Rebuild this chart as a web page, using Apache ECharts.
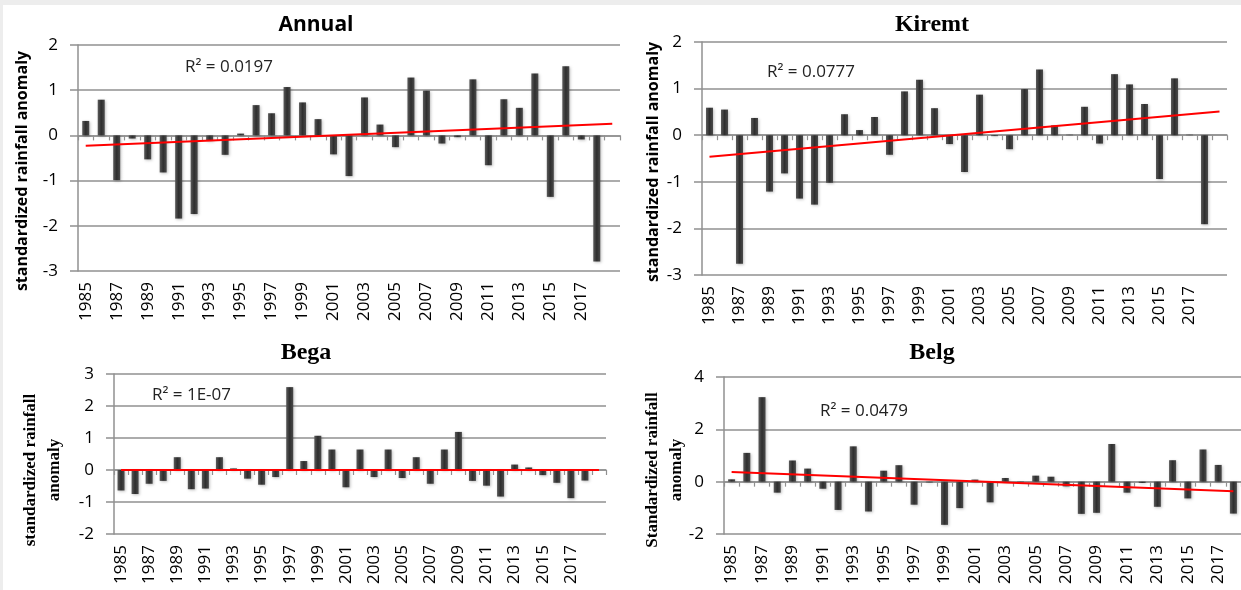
<!DOCTYPE html>
<html><head><meta charset="utf-8">
<script src="https://cdn.jsdelivr.net/npm/echarts@6/dist/echarts.min.js"></script>
<style>html,body{margin:0;padding:0;background:#fff}#c{width:1241px;height:590px}</style>
</head><body><div id="c"></div>
<script>
// ---- data ----
var yearsTop = ['1985','1986','1987','1988','1989','1990','1991','1992','1993','1994','1995','1996','1997','1998','1999','2000','2001','2002','2003','2004','2005','2006','2007','2008','2009','2010','2011','2012','2013','2014','2015','2016','2017','2018','2019'];
var yearsBelg = ['1985','1986','1987','1988','1989','1990','1991','1992','1993','1994','1995','1996','1997','1998','1999','2000','2001','2002','2003','2004','2005','2006','2007','2008','2009','2010','2011','2012','2013','2014','2015','2016','2017','2018'];

var annual = [0.32,0.79,-0.99,-0.07,-0.53,-0.82,-1.84,-1.74,-0.12,-0.43,0.04,0.67,0.49,1.07,0.73,0.36,-0.42,-0.90,0.84,0.24,-0.26,1.28,0.99,-0.18,-0.04,1.24,-0.66,0.80,0.61,1.37,-1.36,1.53,-0.09,-2.79,null];
var kiremt = [0.59,0.55,-2.76,0.37,-1.21,-0.82,-1.36,-1.49,-1.02,0.45,0.11,0.39,-0.42,0.94,1.19,0.58,-0.19,-0.79,0.87,-0.02,-0.30,0.99,1.41,0.21,0.01,0.61,-0.18,1.31,1.09,0.67,-0.94,1.22,0.01,-1.91,null];
var bega = [-0.64,-0.75,-0.43,-0.34,0.40,-0.60,-0.58,0.40,0.05,-0.27,-0.46,-0.22,2.59,0.28,1.07,0.64,-0.54,0.64,-0.22,0.64,-0.25,0.40,-0.43,0.64,1.19,-0.34,-0.49,-0.83,0.17,0.08,-0.16,-0.40,-0.88,-0.33,null];
var belg = [0.09,1.10,3.23,-0.42,0.81,0.50,-0.27,-1.08,1.35,-1.14,0.42,0.63,-0.88,-0.03,-1.65,-1.01,0.08,-0.79,0.14,-0.02,0.23,0.19,-0.18,-1.23,-1.19,1.44,-0.42,-0.05,-0.96,0.82,-0.64,1.23,0.64,-1.22];

// trend line endpoints [first category, last category]
var annualTrend = [-0.23, 0.26];
var kiremtTrend = [-0.46, 0.51];
var begaTrend = [0.0, 0.0];
var belgTrend = [0.37, -0.37];

var titles = ['Annual','Kiremt','Bega','Belg'];
var r2Labels = ['R\u00b2 = 0.0197','R\u00b2 = 0.0777','R\u00b2 = 1E-07','R\u00b2 = 0.0479'];
var yTitles = ['standardized rainfall anomaly','standardized rainfall anomaly','standardized rainfall\nanomaly','Standardized rainfall\nanomaly'];
var yRanges = [[-3,2,1],[-3,2,1],[-2,3,1],[-2,4,2]];

// ---- layout ----
var grids = [
  {left:78, top:45, width:542, height:226},
  {left:702, top:42, width:525, height:233},
  {left:114, top:374, width:492, height:160},
  {left:724, top:377, width:517, height:157}
];
var cats = [yearsTop, yearsTop, yearsTop, yearsBelg];
var vals = [annual, kiremt, bega, belg];
var trends = [annualTrend, kiremtTrend, begaTrend, belgTrend];
var sansFont = '"Open Sans", sans-serif';
var serifFont = '"Liberation Serif", "DejaVu Serif", serif';
var gridColor = '#909090';

var xAxes = [], yAxes = [], series = [];
grids.forEach(function(g, i){
  xAxes.push({
    type:'category', gridIndex:i, data:cats[i], boundaryGap:true,
    axisLine:{onZero:true, lineStyle:{color:gridColor, width:1.5}},
    axisTick:{show:true, interval:0, length:5, lineStyle:{color:gridColor, width:1.2}},
    axisLabel:{show:false}
  });
  xAxes.push({
    type:'category', gridIndex:i, data:cats[i], position:'bottom', boundaryGap:true,
    axisLine:{show:false, onZero:false}, axisTick:{show:false},
    axisLabel:{show:true, interval:1, rotate:90, margin:11, color:'#000', fontFamily:sansFont, fontSize:17,
      formatter:function(v){return v==='2019'?'':v;}}
  });
  yAxes.push({
    type:'value', gridIndex:i, min:yRanges[i][0], max:yRanges[i][1], interval:yRanges[i][2],
    axisLine:{show:true, lineStyle:{color:gridColor, width:1.5}},
    axisTick:{show:true, length:8, lineStyle:{color:gridColor, width:1.5}},
    splitLine:{show:true, lineStyle:{color:gridColor, width:1.5}},
    axisLabel:{color:'#000', fontFamily:sansFont, fontSize:17, margin:20}
  });
  series.push({
    type:'bar', xAxisIndex:i*2, yAxisIndex:i, data:vals[i], barWidth:7,
    itemStyle:{color:new echarts.graphic.LinearGradient(0,0,1,0,[
      {offset:0,color:'#5a5a5a'},{offset:0.5,color:'#2e2e2e'},{offset:1,color:'#4a4a4a'}]),
      shadowColor:'rgba(0,0,0,0.25)', shadowBlur:3, shadowOffsetX:1, shadowOffsetY:1},
    silent:true, z:2
  });
  var c = cats[i];
  series.push({
    type:'line', xAxisIndex:i*2, yAxisIndex:i,
    data:[[c[0], trends[i][0]], [c[c.length-1], trends[i][1]]],
    symbol:'none', lineStyle:{color:'#ff0000', width:2}, silent:true, z:3
  });
});

var titleDefs = [
  {text:titles[0], left:316, top:25, font:'bold 21px '+sansFont},
  {text:titles[1], left:932, top:25, font:'bold 24px '+serifFont},
  {text:titles[2], left:306, top:353, font:'bold 24px '+serifFont},
  {text:titles[3], left:932, top:353, font:'bold 24px '+serifFont}
];
var graphics = [
  {type:'rect', shape:{x:0,y:0,width:1241,height:5}, style:{fill:'#ededed'}, silent:true},
  {type:'rect', shape:{x:0,y:0,width:3,height:590}, style:{fill:'#ededed'}, silent:true}
];
titleDefs.forEach(function(t){
  graphics.push({type:'text', x:t.left, y:t.top, style:{text:t.text, font:t.font, fill:'#000', align:'center', verticalAlign:'middle'}});
});
var r2Pos = [[185,67],[767,72],[152,395],[820,411]];
r2Pos.forEach(function(p, i){
  graphics.push({type:'text', x:p[0], y:p[1], style:{text:r2Labels[i], font:'17px '+sansFont, fill:'#222', align:'left', verticalAlign:'middle'}});
});
// y-axis titles
var yTitlePos = [
  {x:22, y:171, font:'bold 16px '+sansFont, lh:18},
  {x:653, y:162, font:'bold 16px '+sansFont, lh:18},
  {x:43, y:470, font:'bold 17px '+serifFont, lh:24},
  {x:665, y:470, font:'bold 17px '+serifFont, lh:24}
];
yTitlePos.forEach(function(p, i){
  graphics.push({type:'text', x:p.x, y:p.y, rotation:Math.PI/2,
    style:{text:yTitles[i], font:p.font, fill:'#000', align:'center', verticalAlign:'middle', lineHeight:p.lh}});
});

var chart = echarts.init(document.getElementById('c'), null, {renderer:'canvas'});
chart.setOption({
  animation:false,
  backgroundColor:'#ffffff',
  grid:grids,
  xAxis:xAxes,
  yAxis:yAxes,
  series:series,
  graphic:graphics
});
</script>
</body></html>
